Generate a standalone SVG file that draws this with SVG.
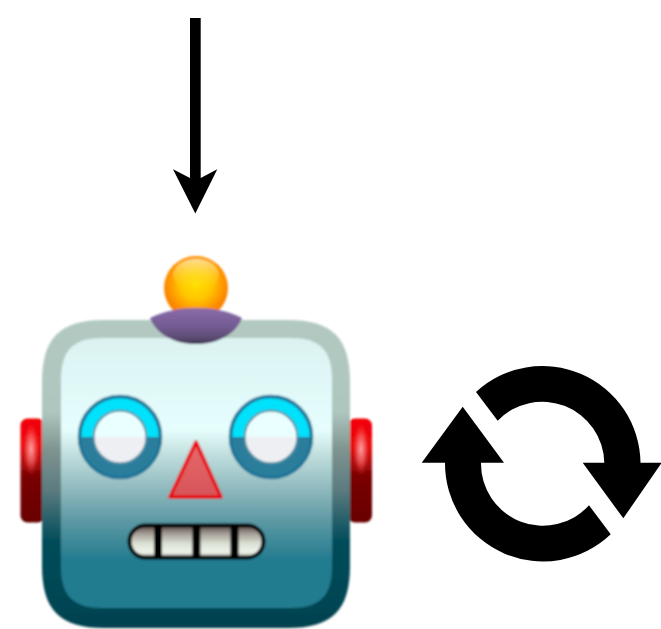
<svg xmlns="http://www.w3.org/2000/svg" width="661" height="629" viewBox="0 0 661 629">
<style>
.k{fill:#000}
.eyeT{fill:#00e2fc}
.eyeB{fill:#2a7e9c}
.rim{fill:none;stroke:#1f7698;stroke-width:3.500}
.pupT{fill:#eaffff}
.pupB{fill:#eeeff3}
.pupEdge{fill:none;stroke:#4f8ba2;stroke-width:2}
.tooth{fill:#000}
.earBase{fill:url(#ear)}
.earGlow{fill:url(#glow)}
</style>
<defs>
<linearGradient id="outer" gradientUnits="userSpaceOnUse" x1="0" y1="320" x2="0" y2="628">
<stop offset="0" stop-color="#b2c9c1"/><stop offset=".3" stop-color="#aec6be"/><stop offset=".42" stop-color="#7f9490"/><stop offset=".55" stop-color="#5c7c80"/><stop offset=".72" stop-color="#004c5a"/><stop offset="1" stop-color="#03424f"/>
</linearGradient>
<linearGradient id="inner" gradientUnits="userSpaceOnUse" x1="0" y1="338" x2="0" y2="608">
<stop offset="0" stop-color="#dbf2f1"/><stop offset=".34" stop-color="#e5fefd"/><stop offset=".42" stop-color="#c6e2e1"/><stop offset=".55" stop-color="#93bcc0"/><stop offset=".68" stop-color="#5c98a3"/><stop offset=".82" stop-color="#247c90"/><stop offset="1" stop-color="#247c90"/>
</linearGradient>
<linearGradient id="ear" x1="0" y1="0" x2="0" y2="1">
<stop offset="0" stop-color="#f40006"/><stop offset=".28" stop-color="#e60a0e"/><stop offset=".42" stop-color="#b01012"/><stop offset=".55" stop-color="#7a0000"/><stop offset="1" stop-color="#680000"/>
</linearGradient>
<radialGradient id="glow">
<stop offset="0" stop-color="#ffb0b0" stop-opacity=".95"/><stop offset=".55" stop-color="#ff7070" stop-opacity=".6"/><stop offset="1" stop-color="#ff3030" stop-opacity="0"/>
</radialGradient>
<radialGradient id="ball" gradientUnits="userSpaceOnUse" cx="196" cy="284" r="32">
<stop offset="0" stop-color="#ffe000"/><stop offset=".5" stop-color="#ffc400"/><stop offset=".82" stop-color="#ff9800"/><stop offset="1" stop-color="#f98406"/>
</radialGradient>
<linearGradient id="shine" x1="0" y1="0" x2="0" y2="1">
<stop offset="0" stop-color="#ffe9b0" stop-opacity=".85"/><stop offset="1" stop-color="#ffe000" stop-opacity="0"/>
</linearGradient>
<linearGradient id="cap" x1="0" y1="0" x2="0" y2="1">
<stop offset="0" stop-color="#8a6cab"/><stop offset=".55" stop-color="#725a90"/><stop offset=".85" stop-color="#5a4a70"/><stop offset="1" stop-color="#3c3050"/>
</linearGradient>
<linearGradient id="nose" x1="0" y1="0" x2="0" y2="1">
<stop offset="0" stop-color="#e86a6a"/><stop offset="1" stop-color="#d65459"/>
</linearGradient>
<linearGradient id="teeth" x1="0" y1="0" x2="0" y2="1">
<stop offset="0" stop-color="#5a4a48"/><stop offset=".25" stop-color="#a39c94"/><stop offset=".55" stop-color="#d9ded3"/><stop offset=".82" stop-color="#eef3ea"/><stop offset="1" stop-color="#b4b6ae"/>
</linearGradient>
<filter id="soft" x="-5%" y="-5%" width="110%" height="110%"><feGaussianBlur stdDeviation="0.8"/></filter>
</defs>

<g id="connectors">
<path class="k" d="M190 18H200.700V178L217.300 169.300L195.300 213.500L173 169.300L190 178Z"/>
</g>

<g id="robot" filter="url(#soft)">
<g id="ear-left"><rect class="earBase" x="20.500" y="418.500" width="24" height="104" rx="7"/><ellipse class="earGlow" cx="31" cy="449" rx="8" ry="26"/></g>
<g id="ear-right"><rect class="earBase" x="348" y="418.500" width="24" height="104" rx="7"/><ellipse class="earGlow" cx="361" cy="449" rx="8" ry="26"/></g>
<g id="head">
<path d="M104 320H288C332 320 350 338 350 382V566C350 610 332 628 288 628H104C60 628 42 610 42 566V382C42 338 60 320 104 320Z" fill="url(#outer)"/>
<path d="M103 338H290C320 338 332 350 332 380V566C332 596 320 608 290 608H103C73 608 61 596 61 566V380C61 350 73 338 103 338Z" fill="url(#inner)"/>
</g>
<g id="antenna">
<circle cx="196" cy="288" r="32" fill="url(#ball)"/>
<ellipse cx="196" cy="275" rx="23" ry="16" fill="url(#shine)"/>
<path d="M150 318C165 311 178 308 196 308C214 308 228 311 242 318C236 334 218 344 196 344C174 344 156 334 150 318Z" fill="url(#cap)"/>
</g>
<g id="eye-left">
<path class="eyeT" d="M78 437A42 42 0 0 1 162 437Z"/><path class="eyeB" d="M78 437A42 42 0 0 0 162 437Z"/>
<circle class="rim" cx="120" cy="437" r="40.500"/>
<path class="pupT" d="M94 437A26 26 0 0 1 146 437Z"/><path class="pupB" d="M94 437A26 26 0 0 0 146 437Z"/>
<circle class="pupEdge" cx="120" cy="437" r="26.500"/>
</g>
<g id="eye-right">
<path class="eyeT" d="M229 437A42 42 0 0 1 313 437Z"/><path class="eyeB" d="M229 437A42 42 0 0 0 313 437Z"/>
<circle class="rim" cx="271" cy="437" r="40.500"/>
<path class="pupT" d="M245 437A26 26 0 0 1 297 437Z"/><path class="pupB" d="M245 437A26 26 0 0 0 297 437Z"/>
<circle class="pupEdge" cx="271" cy="437" r="26.500"/>
</g>
<g id="nose-shape"><path d="M196 442L221 497H170Z" fill="url(#nose)" stroke="#e8000c" stroke-width="3.500" stroke-linejoin="round"/></g>
<g id="mouth">
<rect x="129.500" y="525.500" width="134" height="32" rx="16" fill="url(#teeth)" stroke="#000" stroke-width="4"/>
<rect class="tooth" x="154" y="525" width="8" height="33"/>
<rect class="tooth" x="192.400" y="525" width="8" height="33"/>
<rect class="tooth" x="230.500" y="525" width="8" height="33"/>
</g>
</g>

<g id="cycle">
<path class="k" d="M476 392A98 98 0 0 1 640.500 462.700H661.700L623.300 518.300L582.700 462.700H604.300A62 62 0 0 0 497.700 420.700Z"/>
<path class="k" d="M610.700 534.300A98 98 0 0 1 445 462.700H421.700L462.700 406.700L504 462.700H481A62 62 0 0 0 589 505.300Z"/>
</g>
</svg>
